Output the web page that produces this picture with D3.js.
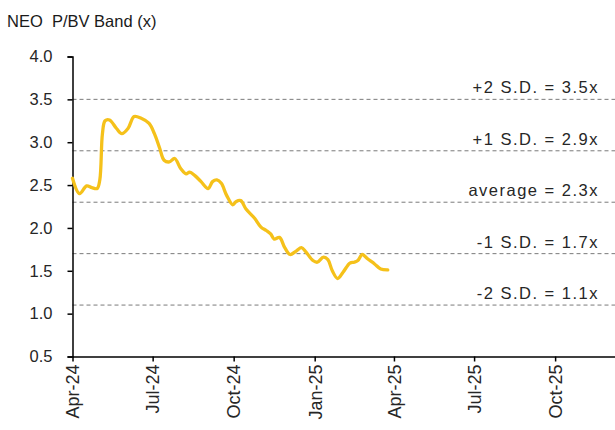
<!DOCTYPE html>
<html>
<head>
<meta charset="utf-8">
<script src="https://cdn.jsdelivr.net/npm/d3@7"></script>
<style>
  body { margin: 0; background: #fff; }
  svg { display: block; font-family: 'Liberation Sans', Arial, sans-serif; }
</style>
</head>
<body>
<svg id="chart" width="615" height="430"></svg>
<script>
// P/BV series
const dates = [
  '2024-04-01','2024-04-09','2024-04-17','2024-04-23','2024-04-29','2024-05-02','2024-05-05','2024-05-08',
  '2024-05-13','2024-05-21','2024-05-27','2024-06-03','2024-06-10','2024-06-18','2024-06-27','2024-07-03',
  '2024-07-09','2024-07-14','2024-07-20','2024-07-26','2024-08-02','2024-08-08','2024-08-12','2024-08-18',
  '2024-08-25','2024-09-02','2024-09-07','2024-09-12','2024-09-17','2024-09-23','2024-09-30','2024-10-04',
  '2024-10-09','2024-10-15','2024-10-25','2024-11-01','2024-11-07','2024-11-12','2024-11-16','2024-11-22',
  '2024-11-28','2024-12-04','2024-12-11','2024-12-17','2024-12-22','2024-12-30','2025-01-04','2025-01-11',
  '2025-01-16','2025-01-21','2025-01-27','2025-02-02','2025-02-10','2025-02-15','2025-02-19','2025-02-24',
  '2025-03-02','2025-03-10','2025-03-17','2025-03-25'
];
const pbv = [
  2.58, 2.40, 2.49, 2.47, 2.46, 2.56, 3.10, 3.25,
  3.26, 3.16, 3.10, 3.16, 3.30, 3.28, 3.22, 3.10,
  2.93, 2.79, 2.77, 2.81, 2.69, 2.63, 2.65, 2.61,
  2.54, 2.46, 2.54, 2.56, 2.52, 2.38, 2.27, 2.31,
  2.32, 2.22, 2.11, 2.01, 1.97, 1.93, 1.87, 1.89,
  1.77, 1.69, 1.73, 1.77, 1.72, 1.62, 1.60, 1.66,
  1.63, 1.50, 1.41, 1.48, 1.59, 1.60, 1.62, 1.69,
  1.64, 1.58, 1.52, 1.51
];

// band lines
const bandValues = [3.5, 2.9, 2.3, 1.7, 1.1];
const bandLabels = ['+2 S.D. = 3.5x', '+1 S.D. = 2.9x', 'average = 2.3x', '-1 S.D. = 1.7x', '-2 S.D. = 1.1x'];

const yTicks = [0.5, 1.0, 1.5, 2.0, 2.5, 3.0, 3.5, 4.0];
const xTicks = ['2024-04-01','2024-07-01','2024-10-01','2025-01-01','2025-04-01','2025-07-01','2025-10-01'];

const parse = d3.timeParse('%Y-%m-%d');
const svg = d3.select('#chart');
const textColor = '#262626';
const fontSize = 16.5;

const x = d3.scaleTime()
  .domain([parse('2024-04-01'), parse('2025-12-08')])
  .range([72.5, 615]);

const y = d3.scaleLinear()
  .domain([0.5, 4.0])
  .range([356.5, 56.5]);

// title
svg.append('text')
  .attr('x', 7).attr('y', 27)
  .attr('font-size', fontSize)
  .attr('fill', '#1a1a1a')
  .attr('xml:space', 'preserve')
  .text('NEO  P/BV Band (x)');

// dashed band lines
svg.append('g').selectAll('line')
  .data(bandValues)
  .enter().append('line')
  .attr('x1', x.range()[0]).attr('x2', 615)
  .attr('y1', d => y(d)).attr('y2', d => y(d))
  .attr('stroke', '#7a7a7a')
  .attr('stroke-width', 1)
  .attr('stroke-dasharray', '4,3');

svg.append('g').selectAll('text')
  .data(bandValues)
  .enter().append('text')
  .attr('x', 599)
  .attr('y', d => y(d) - 6)
  .attr('text-anchor', 'end')
  .attr('font-size', fontSize)
  .attr('letter-spacing', 1.5)
  .attr('fill', textColor)
  .text((d, i) => bandLabels[i]);

// y axis
const yAxis = svg.append('g')
  .attr('transform', `translate(${x.range()[0]},0)`)
  .call(d3.axisLeft(y).tickValues(yTicks).tickFormat(d3.format('.1f')).tickSize(5).tickPadding(15));
yAxis.select('.domain').attr('stroke', '#000').attr('stroke-width', 1.5);
yAxis.selectAll('.tick line').attr('stroke', '#000').attr('stroke-width', 1.5);
yAxis.selectAll('text')
  .attr('font-size', fontSize)
  .attr('fill', textColor)
  .attr('font-family', "'Liberation Sans', Arial, sans-serif");

// x axis
const xAxis = svg.append('g')
  .attr('transform', `translate(0,${y.range()[0]})`)
  .call(d3.axisBottom(x).tickValues(xTicks.map(parse)).tickFormat(d3.timeFormat('%b-%y')).tickSize(5).tickSizeOuter(0));
xAxis.select('.domain').attr('stroke', '#000').attr('stroke-width', 1.5);
xAxis.selectAll('.tick line').attr('stroke', '#000').attr('stroke-width', 1.5);
xAxis.selectAll('text')
  .attr('font-size', 18)
  .attr('fill', textColor)
  .attr('font-family', "'Liberation Sans', Arial, sans-serif")
  .attr('text-anchor', 'end')
  .attr('transform', 'rotate(-90)')
  .attr('x', -8)
  .attr('y', 0)
  .attr('dy', '0.35em');

// P/BV line
const line = d3.line()
  .x((d, i) => x(parse(dates[i])))
  .y(d => y(d))
  .curve(d3.curveCatmullRom.alpha(0.5));

svg.append('path')
  .datum(pbv)
  .attr('d', line)
  .attr('fill', 'none')
  .attr('stroke', '#f5c11a')
  .attr('stroke-width', 3.3)
  .attr('stroke-linejoin', 'round')
  .attr('stroke-linecap', 'round');
</script>
</body>
</html>
